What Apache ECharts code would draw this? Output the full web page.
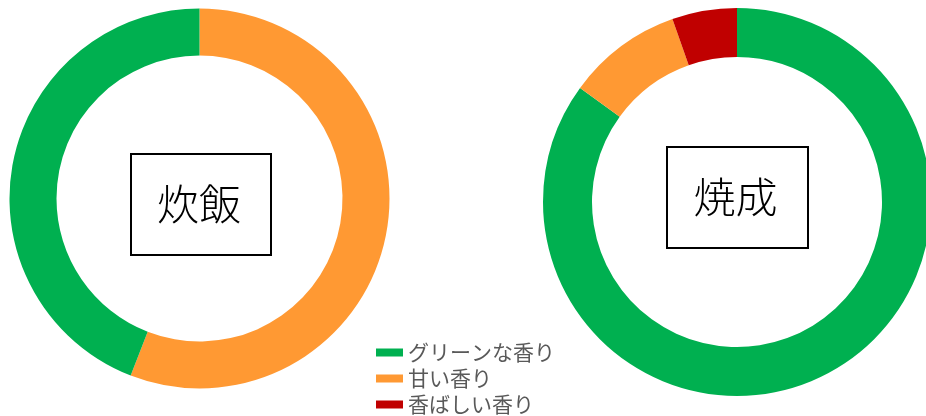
<!DOCTYPE html>
<html>
<head>
<meta charset="utf-8">
<script src="https://cdn.jsdelivr.net/npm/echarts@6/dist/echarts.min.js"></script>
<style>
  html, body { margin: 0; padding: 0; background: #fff; }
  #chart { width: 926px; height: 416px; }
</style>
</head>
<body>
<div id="chart"></div>
<script>
// Aroma categories (legend order) and their colours
const categories = ['グリーンな香り', '甘い香り', '香ばしい香り'];
const categoryColors = ['#00B050', '#FF9933', '#C00000'];

// 炊飯 (cooked rice): share of each aroma, in percent
const riceNames = ['甘い香り', 'グリーンな香り'];
const riceValues = [55.9, 44.1];

// 焼成 (baked): share of each aroma, in percent
const bakedNames = ['グリーンな香り', '甘い香り', '香ばしい香り'];
const bakedValues = [85.0, 9.6, 5.4];

// Titles shown in the centre of each ring
const ringTitles = ['炊飯', '焼成'];

const colorOf = name => categoryColors[categories.indexOf(name)];
const toData = (names, values) => names.map((n, i) => ({
  name: n, value: values[i], itemStyle: { color: colorOf(n) }
}));

const cjk = '"Noto Sans CJK JP", "Noto Sans CJK SC", sans-serif';

function boxedTitle(text, x, y, w, h) {
  return {
    type: 'group', left: x, top: y,
    children: [
      { type: 'rect', shape: { x: 0, y: 0, width: w, height: h },
        style: { fill: '#fff', stroke: '#000', lineWidth: 2 } },
      { type: 'text', x: w / 2 - 2, y: h / 2,
        style: { text: text, fill: '#000', font: '300 42px ' + cjk,
                 align: 'center', verticalAlign: 'middle' } }
    ]
  };
}

const chart = echarts.init(document.getElementById('chart'), null, { renderer: 'canvas' });

const pieBase = {
  type: 'pie',
  clockwise: true,
  startAngle: 90,
  avoidLabelOverlap: false,
  label: { show: false },
  labelLine: { show: false },
  emphasis: { disabled: true },
  itemStyle: { borderWidth: 0 }
};

chart.setOption({
  animation: false,
  backgroundColor: '#fff',
  legend: {
    orient: 'vertical',
    left: 376,
    top: 342,
    padding: 0,
    data: categories,
    icon: 'rect',
    itemWidth: 27,
    itemHeight: 8,
    itemGap: 5,
    itemTextGap: 13,
    selectedMode: false,
    textStyle: { fontFamily: cjk, fontSize: 21, lineHeight: 20, color: '#595959' }
  },
  graphic: [
    boxedTitle(ringTitles[0], 130, 153, 140, 101),
    boxedTitle(ringTitles[1], 666, 146, 141, 101)
  ],
  series: [
    Object.assign({}, pieBase, {
      name: ringTitles[0],
      center: [199.5, 198.5],
      radius: [143, 190],
      data: toData(riceNames, riceValues)
    }),
    Object.assign({}, pieBase, {
      name: ringTitles[1],
      center: [737, 202],
      radius: [145, 194],
      data: toData(bakedNames, bakedValues)
    })
  ]
});
</script>
</body>
</html>
